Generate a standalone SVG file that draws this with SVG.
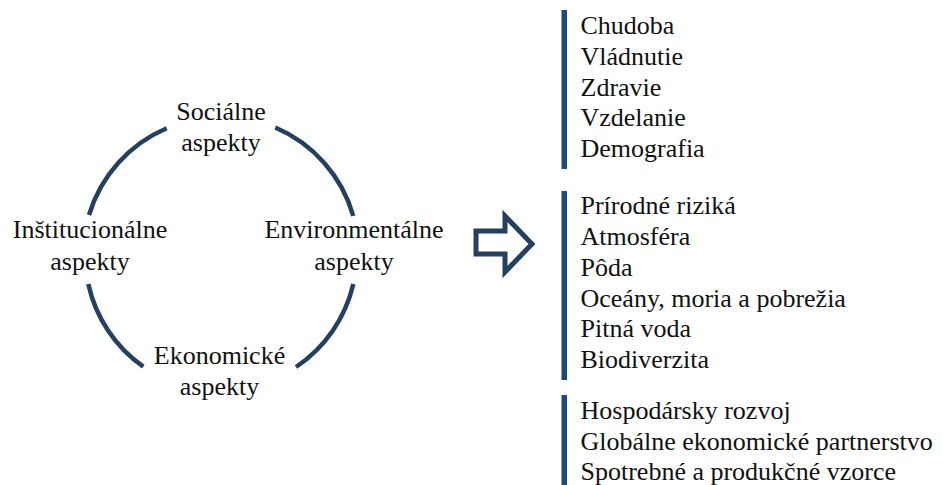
<svg xmlns="http://www.w3.org/2000/svg" width="943" height="485" viewBox="0 0 943 485" font-family="Liberation Serif, serif">
<rect width="943" height="485" fill="#fff"/>
<g id="connectors" fill="none" stroke="#243F60" stroke-width="4.5">
<path d="M89,215 A137,137 0 0 1 166.7,128.3"/>
<path d="M275.3,127.5 A137,137 0 0 1 353.3,216"/>
<path d="M353.3,284 A137,137 0 0 1 296,367"/>
<path d="M143.3,366.7 A137,137 0 0 1 88.3,284"/>
<path d="M476,231 H505 V216 L532,244 L505,272 V254 H476 Z" stroke-width="5"/>
</g>
<g id="social"><text style="font-family:'Liberation Serif',serif;font-size:26px" fill="#111" text-anchor="middle" x="221" y="120">Sociálne</text><text style="font-family:'Liberation Serif',serif;font-size:26px" fill="#111" text-anchor="middle" x="221" y="151">aspekty</text></g>
<g id="institutional"><text style="font-family:'Liberation Serif',serif;font-size:26px" fill="#111" text-anchor="middle" x="90" y="238">Inštitucionálne</text><text style="font-family:'Liberation Serif',serif;font-size:26px" fill="#111" text-anchor="middle" x="90" y="270">aspekty</text></g>
<g id="environmental"><text style="font-family:'Liberation Serif',serif;font-size:26px" fill="#111" text-anchor="middle" x="354" y="238">Environmentálne</text><text style="font-family:'Liberation Serif',serif;font-size:26px" fill="#111" text-anchor="middle" x="354" y="270">aspekty</text></g>
<g id="economic"><text style="font-family:'Liberation Serif',serif;font-size:26px" fill="#111" text-anchor="middle" x="219.5" y="364">Ekonomické</text><text style="font-family:'Liberation Serif',serif;font-size:26px" fill="#111" text-anchor="middle" x="219.5" y="395">aspekty</text></g>
<g id="list-social">
<rect fill="#1F497D" x="561.5" y="10" width="5.5" height="159"/>
<text style="font-family:'Liberation Serif',serif;font-size:26px" fill="#111" x="580.5" y="34.3">Chudoba</text>
<text style="font-family:'Liberation Serif',serif;font-size:26px" fill="#111" x="580.5" y="64.9">Vládnutie</text>
<text style="font-family:'Liberation Serif',serif;font-size:26px" fill="#111" x="580.5" y="95.5">Zdravie</text>
<text style="font-family:'Liberation Serif',serif;font-size:26px" fill="#111" x="580.5" y="126.1">Vzdelanie</text>
<text style="font-family:'Liberation Serif',serif;font-size:26px" fill="#111" x="580.5" y="156.7">Demografia</text>
</g>
<g id="list-environmental">
<rect fill="#1F497D" x="561.5" y="191" width="5.5" height="189"/>
<text style="font-family:'Liberation Serif',serif;font-size:26px" fill="#111" x="580.5" y="214.3">Prírodné riziká</text>
<text style="font-family:'Liberation Serif',serif;font-size:26px" fill="#111" x="580.5" y="245">Atmosféra</text>
<text style="font-family:'Liberation Serif',serif;font-size:26px" fill="#111" x="580.5" y="275.8">Pôda</text>
<text style="font-family:'Liberation Serif',serif;font-size:26px" fill="#111" x="580.5" y="306.6">Oceány, moria a pobrežia</text>
<text style="font-family:'Liberation Serif',serif;font-size:26px" fill="#111" x="580.5" y="337.4">Pitná voda</text>
<text style="font-family:'Liberation Serif',serif;font-size:26px" fill="#111" x="580.5" y="368.2">Biodiverzita</text>
</g>
<g id="list-economic">
<rect fill="#1F497D" x="561.5" y="395" width="5.5" height="90"/>
<text style="font-family:'Liberation Serif',serif;font-size:26px" fill="#111" x="580.5" y="419">Hospodársky rozvoj</text>
<text style="font-family:'Liberation Serif',serif;font-size:26px" fill="#111" x="580.5" y="449.5">Globálne ekonomické partnerstvo</text>
<text style="font-family:'Liberation Serif',serif;font-size:26px" fill="#111" x="580.5" y="480">Spotrebné a produkčné vzorce</text>
</g>
</svg>
